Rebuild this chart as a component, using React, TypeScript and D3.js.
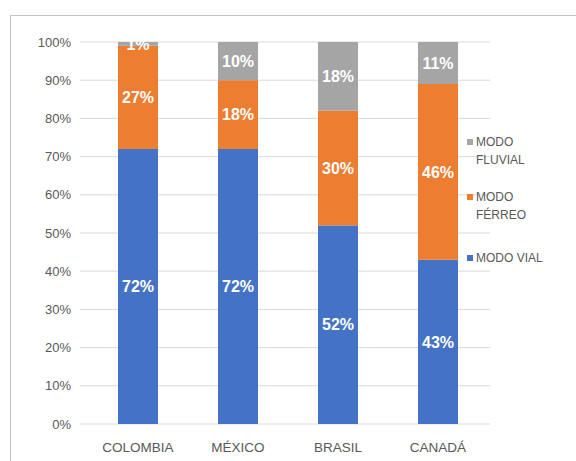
import React from "react";
import * as d3 from "d3";

const categories = ["COLOMBIA", "MÉXICO", "BRASIL", "CANADÁ"];
const vial = [72, 72, 52, 43];
const ferreo = [27, 18, 30, 46];
const fluvial = [1, 10, 18, 11];
const seriesNames = ["MODO VIAL", "MODO FÉRREO", "MODO FLUVIAL"];
const seriesColors = ["#4472C4", "#ED7D31", "#A5A5A5"];
const yTicks = [0, 10, 20, 30, 40, 50, 60, 70, 80, 90, 100];

export default function App() {
  const W = 576, H = 461;
  const x = d3.scaleBand().domain(categories).range([88, 488]).paddingInner(0.6).paddingOuter(0.3);
  const y = d3.scaleLinear().domain([0, 100]).range([424, 42]);
  const series = [vial, ferreo, fluvial];
  const rows = categories.map((c, i) => ({ cat: c, v0: vial[i], v1: ferreo[i], v2: fluvial[i] }));
  const stack = d3.stack<any>().keys(["v0", "v1", "v2"])(rows);
  const font = "'Liberation Sans', Arial, sans-serif";
  return (
    <svg width={W} height={H} style={{ position: "absolute", left: 0, top: 0, background: "#fff" }}>
      <rect x={0} y={0} width={W} height={H} fill="#fff" />
      <line x1={10} x2={W} y1={15.5} y2={15.5} stroke="#c4c4c4" />
      <line x1={10.5} x2={10.5} y1={15} y2={H} stroke="#c4c4c4" />
      {yTicks.map((t) => (
        <g key={t}>
          <line x1={80} x2={490} y1={y(t)} y2={y(t)} stroke="#d9d9d9" strokeWidth={1} />
          <text x={71} y={y(t)} dy="0.35em" textAnchor="end" fontSize={13} fill="#595959" fontFamily={font}>
            {t}%
          </text>
        </g>
      ))}
      {stack.map((s, si) =>
        s.map((d, i) => (
          <g key={si + "-" + i}>
            <rect x={x(categories[i])!} y={y(d[1])} width={x.bandwidth()} height={y(d[0]) - y(d[1])} fill={seriesColors[si]} />
            <text
              x={x(categories[i])! + x.bandwidth() / 2}
              y={(y(d[0]) + y(d[1])) / 2}
              dy="0.36em"
              textAnchor="middle"
              fontSize={16}
              fontWeight="bold"
              fill="#fff"
              fontFamily={font}
            >
              {series[si][i]}%
            </text>
          </g>
        ))
      )}
      {categories.map((c) => (
        <text key={c} x={x(c)! + x.bandwidth() / 2} y={452} textAnchor="middle" fontSize={13.5} fill="#595959" fontFamily={font}>
          {c}
        </text>
      ))}
      {/* legend */}
      <g fontFamily={font} fontSize={12} fill="#595959">
        <rect x={467} y={139} width={6} height={6} fill={seriesColors[2]} />
        <text x={476} y={146}>MODO</text>
        <text x={476} y={164}>FLUVIAL</text>
        <rect x={467} y={194} width={6} height={6} fill={seriesColors[1]} />
        <text x={476} y={201}>MODO</text>
        <text x={476} y={219}>FÉRREO</text>
        <rect x={467} y={255} width={6} height={6} fill={seriesColors[0]} />
        <text x={476} y={262}>{seriesNames[0]}</text>
      </g>
    </svg>
  );
}
